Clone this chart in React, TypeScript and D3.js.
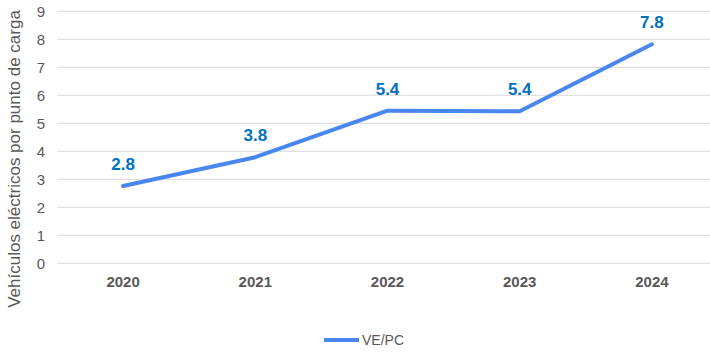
import React from "react";
import * as d3 from "d3";

const years = ["2020", "2021", "2022", "2023", "2024"];
const values = [2.76, 3.79, 5.45, 5.43, 7.82];
const labels = ["2.8", "3.8", "5.4", "5.4", "7.8"];
const yTicks = [0, 1, 2, 3, 4, 5, 6, 7, 8, 9];
const seriesName = "VE/PC";

const W = 710;
const H = 353;
const left = 57;
const right = 718;
const top = 11.3;
const bottom = 263.3;

export default function App() {
  const x = d3.scalePoint<string>().domain(years).range([left, right]).padding(0.5);
  const y = d3.scaleLinear().domain([0, 9]).range([bottom, top]);

  const line = d3
    .line<number>()
    .x((_, i) => x(years[i]) as number)
    .y((d) => y(d));

  const font = "'Liberation Sans', Arial, sans-serif";

  return (
    <svg
      width={W}
      height={H}
      style={{ position: "absolute", left: 0, top: 0, fontFamily: font }}
    >
      <rect width={W} height={H} fill="#fff" />
      {yTicks.map((t) => (
        <g key={t}>
          <line x1={left} x2={W} y1={y(t)} y2={y(t)} stroke="#d9d9d9" strokeWidth={1} />
          <text x={45} y={y(t)} dy="0.35em" textAnchor="end" fontSize={15} fill="#595959">
            {t}
          </text>
        </g>
      ))}
      {years.map((yr) => (
        <text
          key={yr}
          x={x(yr)}
          y={287}
          textAnchor="middle"
          fontSize={15}
          fontWeight="bold"
          fill="#595959"
        >
          {yr}
        </text>
      ))}
      <text
        transform={`translate(20, 159) rotate(-90)`}
        textAnchor="middle"
        fontSize={17}
        fill="#595959"
      >
        Vehículos eléctricos por punto de carga
      </text>
      <path
        d={line(values) ?? ""}
        fill="none"
        stroke="#4a86f0"
        strokeWidth={4}
        strokeLinejoin="round"
        strokeLinecap="round"
      />
      {values.map((v, i) => (
        <text
          key={i}
          x={x(years[i])}
          y={y(v) - 16}
          textAnchor="middle"
          fontSize={17}
          fontWeight="bold"
          fill="#0070c0"
        >
          {labels[i]}
        </text>
      ))}
      <line x1={324} x2={359} y1={340} y2={340} stroke="#4a86f0" strokeWidth={4} />
      <text x={362} y={345} fontSize={14} fill="#595959">
        {seriesName}
      </text>
    </svg>
  );
}
